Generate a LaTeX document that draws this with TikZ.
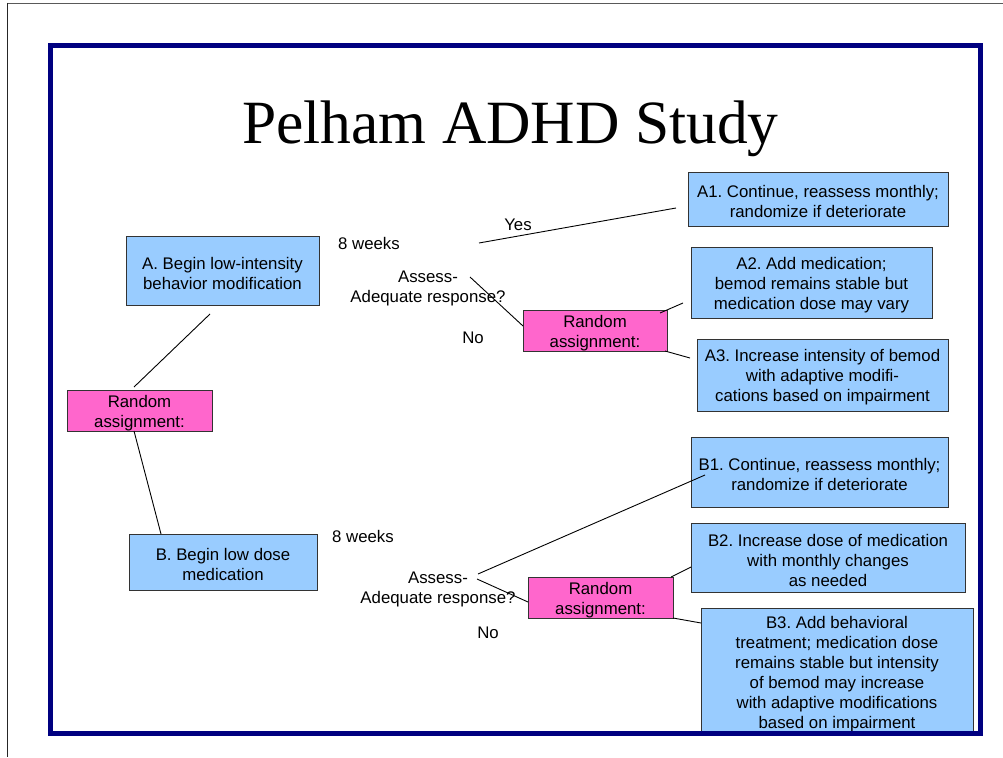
\documentclass[tikz,border=0pt]{standalone}
\usepackage{fontspec}
\setmainfont{Liberation Sans}
\newfontfamily\titlefont{Liberation Serif}
\definecolor{boxblue}{HTML}{99CCFF}
\definecolor{boxpink}{HTML}{FF66CC}
\definecolor{framenavy}{HTML}{000080}
\frenchspacing
\begin{document}
\begin{tikzpicture}[x=1pt,y=-1pt,
  every node/.style={inner sep=0pt, outer sep=0pt},
  txt/.style={font=\fontsize{16.8}{20}\selectfont, align=center},
  boxtxt/.style={txt, yshift=-2.5pt},
  bluebox/.style={rectangle, draw=black!80, fill=boxblue, line width=0.9pt},
  pinkbox/.style={rectangle, draw=black!80, fill=boxpink, line width=0.9pt},
  link/.style={draw=black, line width=0.9pt}]
\useasboundingbox (0,0) rectangle (1003,757);
\fill[white] (0,0) rectangle (1003,757);

% page edges
\draw[black!65, line width=1pt] (7,3.3) -- (1003,3.3);
\draw[black!85, line width=1.5pt] (7.5,3) -- (7.5,757);

% title
\node[font=\titlefont\fontsize{61.5}{70}\selectfont, anchor=base] (title) at (510.5,143) {Pelham ADHD Study};

% first-stage treatments and randomisation
\node[bluebox, minimum width=193pt, minimum height=69pt] (A) at (222.5,270.5) {};
\node[boxtxt] (At) at (A.center) {A. Begin low-intensity\\behavior modification};
\node[bluebox, minimum width=188pt, minimum height=56pt] (B) at (223,562) {};
\node[boxtxt] (Bt) at (B.center) {B. Begin low dose\\medication};
\node[pinkbox, minimum width=145pt, minimum height=41pt] (RA) at (139.5,410.5) {};
\node[boxtxt] (RAt) at (RA.center) {Random\\assignment:};

% second-stage randomisations
\node[pinkbox, minimum width=144pt, minimum height=41pt] (R2) at (595,330.5) {};
\node[boxtxt] (R2t) at (R2.center) {Random\\assignment:};
\node[pinkbox, minimum width=145pt, minimum height=41pt] (R3) at (600.5,597.5) {};
\node[boxtxt] (R3t) at (R3.center) {Random\\assignment:};

% second-stage options, branch A
\node[bluebox, minimum width=260pt, minimum height=54pt] (A1) at (818,199) {};
\node[boxtxt] (A1t) at (A1.center) {A1. Continue, reassess monthly;\\randomize if deteriorate};
\node[bluebox, minimum width=241pt, minimum height=71pt] (A2) at (811.5,282.5) {};
\node[boxtxt] (A2t) at (A2.center) {A2. Add medication;\\bemod remains stable but\\medication dose may vary};
\node[bluebox, minimum width=251pt, minimum height=72pt] (A3) at (822.5,375) {};
\node[boxtxt] (A3t) at (A3.center) {A3. Increase intensity of bemod\\with adaptive modifi-\\cations based on impairment};

% second-stage options, branch B
\node[bluebox, minimum width=257pt, minimum height=70pt] (B1) at (819.5,472) {};
\node[boxtxt] (B1t) at (B1.center) {B1. Continue, reassess monthly;\\randomize if deteriorate};
\node[bluebox, minimum width=274pt, minimum height=69pt] (B2) at (828,557.5) {};
\node[boxtxt] (B2t) at (B2.center) {B2. Increase dose of medication\\with monthly changes\\as needed};
\node[bluebox, minimum width=272pt, minimum height=127pt] (B3) at (837,671.5) {};
\node[boxtxt] (B3t) at (B3.center) {B3. Add behavioral\\treatment; medication dose\\remains stable but intensity\\of bemod may increase\\with adaptive modifications\\based on impairment};

% labels
\node[txt] (wA) at (369,243) {8 weeks};
\node[txt] (wB) at (363,536) {8 weeks};
\node[txt] (yes) at (518,225) {Yes};
\node[txt] (asA) at (428,288) {Assess-\\Adequate response?};
\node[txt] (asB) at (438,589) {Assess-\\Adequate response?};
\node[txt] (noA) at (473,337.5) {No};
\node[txt] (noB) at (488,633) {No};

% connector end points
\coordinate (a1) at (210,314);
\coordinate (a2) at (134,387);
\coordinate (y1) at (479,243);
\coordinate (y2) at (676,208);
\coordinate (q1) at (470,277);
\coordinate (r2a) at (660,313);
\coordinate (r2b) at (683,303);
\coordinate (r2c) at (690,358);
\coordinate (b1a) at (478,574);
\coordinate (b1b) at (705,475);
\coordinate (q2) at (477,579);

% connectors
\draw[link] (a1) -- (a2);
\draw[link] ([xshift=-5.5pt]RA.south) -- ([xshift=-62pt]B.north);
\draw[link] (y1) -- (y2);
\draw[link] (q1) -- ([yshift=4.5pt]R2.west);
\draw[link] (r2a) -- (r2b);
\draw[link] ([xshift=-2pt]R2.south east) -- (r2c);
\draw[link] (b1a) -- (b1b);
\draw[link] (q2) -- ([yshift=-4.5pt]R3.west);
\draw[link] ([xshift=-2pt]R3.north east) -- ([yshift=-9.5pt]B2.west);
\draw[link] (R3.south east) -- ([yshift=-15pt]B3.north west);

% slide frame
\draw[framenavy, line width=5pt] (50.5,45.5) rectangle (980.5,733);
\end{tikzpicture}
\end{document}
